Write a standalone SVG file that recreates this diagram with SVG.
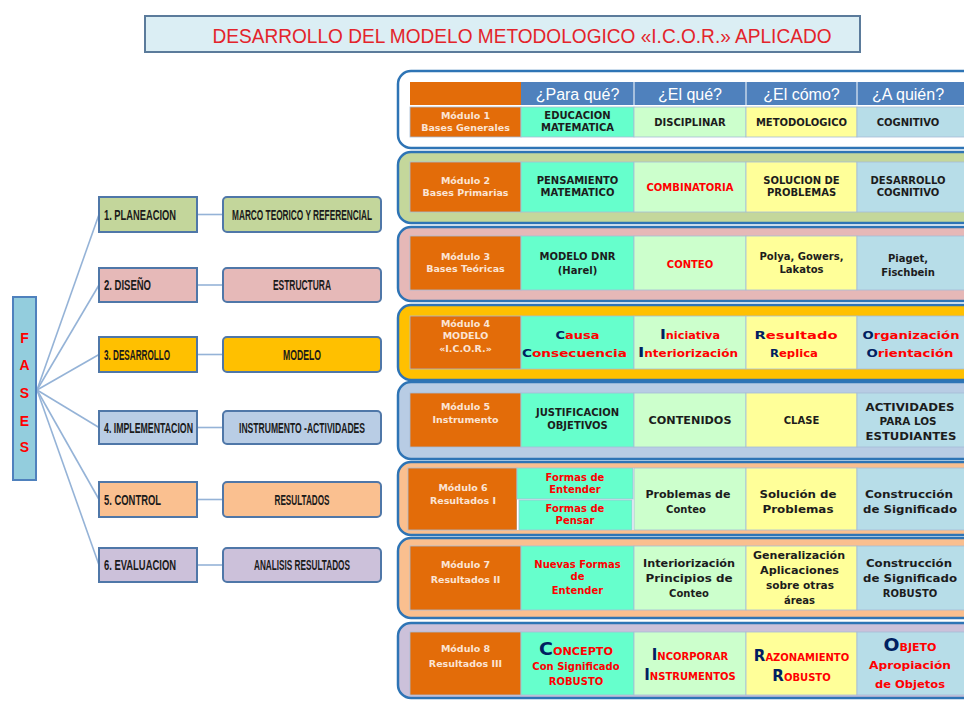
<svg xmlns="http://www.w3.org/2000/svg" width="964" height="702" viewBox="0 0 964 702">
<style>
.lbl{font-family:"Liberation Sans",Arial,sans-serif;font-weight:bold;font-size:14px;fill:#1a1a1a}
.ph{stroke:#4f77a8;stroke-width:2}
.rb{stroke:#4f77a8;stroke-width:2}
.con{stroke:#95b3d7;stroke-width:1.6;fill:none}
.cont{stroke:#2e74b5;stroke-width:2.5}
.c{stroke:#a6bcd6;stroke-width:0.8}
.t{font-family:"DejaVu Sans",Verdana,sans-serif;font-weight:bold;font-size:10px;fill:#1c1c1c;text-anchor:middle}
.m{font-family:"DejaVu Sans",Verdana,sans-serif;font-weight:bold;font-size:9.5px;fill:#fbe4d5;text-anchor:middle}
.h{font-family:"Liberation Sans",Arial,sans-serif;font-size:16px;fill:#ffffff;text-anchor:middle}
.r{fill:#ff0000}
.n{fill:#002060}
.or{fill:#e36c09}.g1{fill:#66ffcc}.g2{fill:#ccffcc}.y{fill:#ffff99}.b{fill:#b7dde8}
</style>

<g id="title">
<rect x="145" y="16" width="715" height="36" fill="#dbeef4" stroke="#5b7b9b" stroke-width="2"/>
<text x="522" y="43" font-family="Liberation Sans,Arial,sans-serif" font-size="21" fill="#e3242b" text-anchor="middle" textLength="619" lengthAdjust="spacingAndGlyphs">DESARROLLO DEL MODELO METODOLOGICO «I.C.O.R.» APLICADO</text>
</g>

<g id="connectors">
<line class="con" x1="37" y1="390" x2="99" y2="214.5"/>
<line class="con" x1="37" y1="390" x2="99" y2="285"/>
<line class="con" x1="37" y1="390" x2="99" y2="354.5"/>
<line class="con" x1="37" y1="390" x2="99" y2="427.5"/>
<line class="con" x1="37" y1="390" x2="99" y2="499.5"/>
<line class="con" x1="37" y1="390" x2="99" y2="565"/>
<line class="con" x1="197" y1="214.5" x2="223" y2="214.5"/>
<line class="con" x1="197" y1="285" x2="223" y2="285"/>
<line class="con" x1="197" y1="354.5" x2="223" y2="354.5"/>
<line class="con" x1="197" y1="427.5" x2="223" y2="427.5"/>
<line class="con" x1="197" y1="499.5" x2="223" y2="499.5"/>
<line class="con" x1="197" y1="565" x2="223" y2="565"/>
</g>

<g id="fases">
<rect x="13" y="297" width="23" height="183" fill="#93cddd" stroke="#4f81bd" stroke-width="2"/>
<g font-family="Liberation Sans,Arial,sans-serif" font-weight="bold" font-size="14" fill="#ff0000" text-anchor="middle">
<text x="24.5" y="343">F</text><text x="24.5" y="370">A</text><text x="24.5" y="398">S</text><text x="24.5" y="426">E</text><text x="24.5" y="452">S</text>
</g>
</g>

<g id="phase1"><rect class="ph" x="99" y="197" width="98" height="35" fill="#c3d69b"/><text class="lbl" x="104" y="220" textLength="72" lengthAdjust="spacingAndGlyphs">1. PLANEACION</text></g>
<g id="phase2"><rect class="ph" x="99" y="268" width="98" height="34" fill="#e6b9b8"/><text class="lbl" x="104" y="290" textLength="47" lengthAdjust="spacingAndGlyphs">2. DISEÑO</text></g>
<g id="phase3"><rect class="ph" x="99" y="337" width="98" height="35" fill="#ffc000"/><text class="lbl" x="104" y="360" textLength="66" lengthAdjust="spacingAndGlyphs">3. DESARROLLO</text></g>
<g id="phase4"><rect class="ph" x="99" y="411" width="98" height="33" fill="#b9cde5"/><text class="lbl" x="104" y="433" textLength="89" lengthAdjust="spacingAndGlyphs">4. IMPLEMENTACION</text></g>
<g id="phase5"><rect class="ph" x="99" y="482" width="98" height="35" fill="#fac090"/><text class="lbl" x="104" y="505" textLength="57" lengthAdjust="spacingAndGlyphs">5. CONTROL</text></g>
<g id="phase6"><rect class="ph" x="99" y="548" width="98" height="34" fill="#ccc1da"/><text class="lbl" x="104" y="570" textLength="72" lengthAdjust="spacingAndGlyphs">6. EVALUACION</text></g>

<g id="out1"><rect class="rb" x="223" y="197" width="158" height="35" rx="4" fill="#c3d69b"/><text class="lbl" x="302" y="220" text-anchor="middle" textLength="140" lengthAdjust="spacingAndGlyphs">MARCO TEORICO Y REFERENCIAL</text></g>
<g id="out2"><rect class="rb" x="223" y="268" width="158" height="34" rx="4" fill="#e6b9b8"/><text class="lbl" x="302" y="290" text-anchor="middle" textLength="58" lengthAdjust="spacingAndGlyphs">ESTRUCTURA</text></g>
<g id="out3"><rect class="rb" x="223" y="337" width="158" height="35" rx="4" fill="#ffc000"/><text class="lbl" x="302" y="360" text-anchor="middle" textLength="38" lengthAdjust="spacingAndGlyphs">MODELO</text></g>
<g id="out4"><rect class="rb" x="223" y="411" width="158" height="33" rx="4" fill="#b9cde5"/><text class="lbl" x="302" y="433" text-anchor="middle" textLength="126" lengthAdjust="spacingAndGlyphs">INSTRUMENTO -ACTIVIDADES</text></g>
<g id="out5"><rect class="rb" x="223" y="482" width="158" height="35" rx="4" fill="#fac090"/><text class="lbl" x="302" y="505" text-anchor="middle" textLength="55" lengthAdjust="spacingAndGlyphs">RESULTADOS</text></g>
<g id="out6"><rect class="rb" x="223" y="548" width="158" height="34" rx="4" fill="#ccc1da"/><text class="lbl" x="302" y="570" text-anchor="middle" textLength="96" lengthAdjust="spacingAndGlyphs">ANALISIS RESULTADOS</text></g>

<g id="modulo1">
<rect class="cont" x="398" y="71" width="600" height="77" rx="13" fill="#ffffff"/>
<rect x="410" y="82" width="111" height="23" class="or"/>
<rect x="521" y="82" width="450" height="23" fill="#4f81bd"/>
<line x1="634" y1="82" x2="634" y2="105" stroke="#ffffff" stroke-width="1"/>
<line x1="746" y1="82" x2="746" y2="105" stroke="#ffffff" stroke-width="1"/>
<line x1="857" y1="82" x2="857" y2="105" stroke="#ffffff" stroke-width="1"/>
<text class="h" x="577.5" y="100">¿Para qué?</text>
<text class="h" x="690" y="100">¿El qué?</text>
<text class="h" x="801.5" y="100">¿El cómo?</text>
<text class="h" x="908" y="100">¿A quién?</text>
<rect class="or c" x="410" y="107" width="111" height="30"/>
<rect class="g1 c" x="521" y="107" width="113" height="30"/>
<rect class="g2 c" x="634" y="107" width="112" height="30"/>
<rect class="y c" x="746" y="107" width="111" height="30"/>
<rect class="b c" x="857" y="107" width="114" height="30"/>
<text class="m" x="465.5" y="119">Módulo 1</text><text class="m" x="465.5" y="131">Bases Generales</text>
<text class="t" x="577.5" y="119">EDUCACION</text><text class="t" x="577.5" y="131">MATEMATICA</text>
<text class="t" x="690" y="126">DISCIPLINAR</text>
<text class="t" x="801.5" y="126">METODOLOGICO</text>
<text class="t" x="908" y="126">COGNITIVO</text>
</g>

<g id="modulo2">
<rect class="cont" x="398" y="152" width="600" height="71" rx="13" fill="#c4d79b"/>
<rect class="or c" x="410" y="162" width="111" height="50"/>
<rect class="g1 c" x="521" y="162" width="113" height="50"/>
<rect class="g2 c" x="634" y="162" width="112" height="50"/>
<rect class="y c" x="746" y="162" width="111" height="50"/>
<rect class="b c" x="857" y="162" width="114" height="50"/>
<text class="m" x="465.5" y="184">Módulo 2</text><text class="m" x="465.5" y="196">Bases Primarias</text>
<text class="t" x="577.5" y="184" font-size="10.5">PENSAMIENTO</text><text class="t" x="577.5" y="196" font-size="10.5">MATEMATICO</text>
<text class="t r" x="690" y="191" font-size="11">COMBINATORIA</text>
<text class="t" x="801.5" y="184" font-size="9.5">SOLUCION DE</text><text class="t" x="801.5" y="196" font-size="9.5">PROBLEMAS</text>
<text class="t" x="908" y="184" font-size="10.5">DESARROLLO</text><text class="t" x="908" y="196" font-size="10.5">COGNITIVO</text>
</g>

<g id="modulo3">
<rect class="cont" x="398" y="227" width="600" height="74" rx="13" fill="#e6b8b7"/>
<rect class="or c" x="410" y="236" width="111" height="54"/>
<rect class="g1 c" x="521" y="236" width="113" height="54"/>
<rect class="g2 c" x="634" y="236" width="112" height="54"/>
<rect class="y c" x="746" y="236" width="111" height="54"/>
<rect class="b c" x="857" y="236" width="114" height="54"/>
<text class="m" x="465.5" y="260">Módulo 3</text><text class="m" x="465.5" y="272">Bases Teóricas</text>
<text class="t" x="577.5" y="260" font-size="12">MODELO DNR</text><text class="t" x="577.5" y="274" font-size="12">(Harel)</text>
<text class="t r" x="690" y="268" font-size="12.5">CONTEO</text>
<text class="t" x="801.5" y="260" font-size="9.5">Polya, Gowers,</text><text class="t" x="801.5" y="273" font-size="9.5">Lakatos</text>
<text class="t" x="908" y="262" font-size="11.5">Piaget,</text><text class="t" x="908" y="276" font-size="11.5">Fischbein</text>
</g>

<g id="modulo4">
<rect class="cont" x="398" y="305" width="600" height="75" rx="13" fill="#ffc000"/>
<rect class="or c" x="410" y="316" width="111" height="53"/>
<rect class="g1 c" x="521" y="316" width="113" height="53"/>
<rect class="g2 c" x="634" y="316" width="112" height="53"/>
<rect class="y c" x="746" y="316" width="111" height="53"/>
<rect class="b c" x="857" y="316" width="114" height="53"/>
<text class="m" x="465.5" y="327">Módulo 4</text><text class="m" x="465.5" y="339">MODELO</text><text class="m" x="465.5" y="352">«I.C.O.R.»</text>
<text class="t r" x="577.5" y="339" font-size="14.5" textLength="44" lengthAdjust="spacingAndGlyphs"><tspan class="n">C</tspan>ausa</text>
<text class="t r" x="574.5" y="357" font-size="14.5" textLength="105" lengthAdjust="spacingAndGlyphs"><tspan class="n">C</tspan>onsecuencia</text>
<text class="t r" x="690" y="339" font-size="12.5" textLength="60" lengthAdjust="spacingAndGlyphs"><tspan class="n" font-size="14">I</tspan>niciativa</text>
<text class="t r" x="688" y="357" font-size="12.5" textLength="100" lengthAdjust="spacingAndGlyphs"><tspan class="n" font-size="14">I</tspan>nteriorización</text>
<text class="t r" x="796" y="339" font-size="14.5" textLength="83" lengthAdjust="spacingAndGlyphs"><tspan class="n">R</tspan>esultado</text>
<text class="t r" x="794" y="357" font-size="14.5" textLength="48" lengthAdjust="spacingAndGlyphs"><tspan class="n">R</tspan>eplica</text>
<text class="t r" x="911" y="339" font-size="14.5" textLength="97" lengthAdjust="spacingAndGlyphs"><tspan class="n">O</tspan>rganización</text>
<text class="t r" x="910" y="357" font-size="14.5" textLength="87" lengthAdjust="spacingAndGlyphs"><tspan class="n">O</tspan>rientación</text>
</g>

<g id="modulo5">
<rect class="cont" x="398" y="382" width="600" height="77" rx="13" fill="#b8cce4"/>
<rect class="or c" x="410" y="393" width="111" height="54"/>
<rect class="g1 c" x="521" y="393" width="113" height="54"/>
<rect class="g2 c" x="634" y="393" width="112" height="54"/>
<rect class="y c" x="746" y="393" width="111" height="54"/>
<rect class="b c" x="857" y="393" width="114" height="54"/>
<text class="m" x="465.5" y="410" font-size="10">Módulo 5</text><text class="m" x="465.5" y="423" font-size="10">Instrumento</text>
<text class="t" x="577.5" y="416" font-size="10.5">JUSTIFICACION</text><text class="t" x="577.5" y="429" font-size="10.5">OBJETIVOS</text>
<text class="t" x="690" y="424" font-size="11.5" textLength="83" lengthAdjust="spacingAndGlyphs">CONTENIDOS</text>
<text class="t" x="801.5" y="424" font-size="11.5">CLASE</text>
<text class="t" x="910" y="411" font-size="12" textLength="89" lengthAdjust="spacingAndGlyphs">ACTIVIDADES</text><text class="t" x="908" y="425" font-size="12" textLength="57" lengthAdjust="spacingAndGlyphs">PARA LOS</text><text class="t" x="911" y="440" font-size="12" textLength="91" lengthAdjust="spacingAndGlyphs">ESTUDIANTES</text>
</g>

<g id="modulo6">
<rect class="cont" x="398" y="462" width="600" height="73" rx="13" fill="#fabf8f"/>
<rect class="or c" x="408" y="468" width="109" height="62"/>
<rect fill="#ffffff" x="517" y="468" width="117" height="62"/>
<rect class="g1 c" x="517" y="468" width="116" height="31"/>
<rect class="g1 c" x="519" y="500" width="113" height="30"/>
<rect class="g2 c" x="634" y="468" width="112" height="62"/>
<rect class="y c" x="746" y="468" width="111" height="62"/>
<rect class="b c" x="857" y="468" width="114" height="62"/>
<text class="m" x="463" y="491" font-size="10">Módulo 6</text><text class="m" x="463" y="504" font-size="10.5">Resultados  I</text>
<text class="t r" x="575" y="481" font-size="10.5">Formas de</text><text class="t r" x="575" y="493" font-size="10.5">Entender</text>
<text class="t r" x="575" y="512" font-size="10.5">Formas de</text><text class="t r" x="575" y="524" font-size="10.5">Pensar</text>
<text class="t" x="688" y="498" font-size="12" textLength="85" lengthAdjust="spacingAndGlyphs">Problemas de</text><text class="t" x="686" y="513" font-size="12">Conteo</text>
<text class="t" x="798" y="498" font-size="12.5" textLength="77" lengthAdjust="spacingAndGlyphs">Solución de</text><text class="t" x="798" y="513" font-size="12.5" textLength="71" lengthAdjust="spacingAndGlyphs">Problemas</text>
<text class="t" x="909" y="498" font-size="12" textLength="88" lengthAdjust="spacingAndGlyphs">Construcción</text><text class="t" x="910" y="513" font-size="12" textLength="94" lengthAdjust="spacingAndGlyphs">de Significado</text>
</g>

<g id="modulo7">
<rect class="cont" x="398" y="538" width="600" height="80" rx="13" fill="#fabf8f"/>
<rect class="or c" x="410" y="546" width="111" height="64"/>
<rect class="g1 c" x="521" y="546" width="113" height="64"/>
<rect class="g2 c" x="634" y="546" width="112" height="64"/>
<rect class="y c" x="746" y="546" width="111" height="64"/>
<rect class="b c" x="857" y="546" width="114" height="64"/>
<text class="m" x="465.5" y="568" font-size="10">Módulo 7</text><text class="m" x="465.5" y="583" font-size="10.5">Resultados  II</text>
<text class="t r" x="577.5" y="568" font-size="11">Nuevas Formas</text><text class="t r" x="577.5" y="580" font-size="11">de</text><text class="t r" x="577.5" y="594" font-size="11.5">Entender</text>
<text class="t" x="689" y="567" font-size="12" textLength="92" lengthAdjust="spacingAndGlyphs">Interiorización</text><text class="t" x="689" y="582" font-size="12" textLength="87" lengthAdjust="spacingAndGlyphs">Principios de</text><text class="t" x="689" y="597" font-size="12">Conteo</text>
<text class="t" x="799" y="559" font-size="11.5" textLength="92" lengthAdjust="spacingAndGlyphs">Generalización</text><text class="t" x="799.5" y="574" font-size="11.5" textLength="79" lengthAdjust="spacingAndGlyphs">Aplicaciones</text><text class="t" x="800" y="589" font-size="11.5" textLength="68" lengthAdjust="spacingAndGlyphs">sobre otras</text><text class="t" x="799.5" y="604" font-size="11.5">áreas</text>
<text class="t" x="909" y="567" font-size="12" textLength="86" lengthAdjust="spacingAndGlyphs">Construcción</text><text class="t" x="910" y="582" font-size="12" textLength="94" lengthAdjust="spacingAndGlyphs">de Significado</text><text class="t" x="910" y="597" font-size="12">ROBUSTO</text>
</g>

<g id="modulo8">
<rect class="cont" x="398" y="623" width="600" height="75" rx="13" fill="#ccc1da"/>
<rect class="or c" x="410" y="632" width="111" height="63"/>
<rect class="g1 c" x="521" y="632" width="113" height="63"/>
<rect class="g2 c" x="634" y="632" width="112" height="63"/>
<rect class="y c" x="746" y="632" width="111" height="63"/>
<rect class="b c" x="857" y="632" width="114" height="63"/>
<text class="m" x="465.5" y="652" font-size="10">Módulo 8</text><text class="m" x="465.5" y="667" font-size="10.5">Resultados  III</text>
<text class="t r" x="576" y="655" font-size="12" textLength="74" lengthAdjust="spacingAndGlyphs"><tspan class="n" font-size="17">C</tspan>ONCEPTO</text>
<text class="t r" x="576" y="670" font-size="11">Con Significado</text>
<text class="t r" x="576" y="685" font-size="11">ROBUSTO</text>
<text class="t r" x="690" y="660" font-size="10"><tspan class="n" font-size="15">I</tspan>NCORPORAR</text>
<text class="t r" x="690" y="680" font-size="9.5"><tspan class="n" font-size="15">I</tspan>NSTRUMENTOS</text>
<text class="t r" x="801.5" y="661" font-size="10"><tspan class="n" font-size="15">R</tspan>AZONAMIENTO</text>
<text class="t r" x="801.5" y="681" font-size="10"><tspan class="n" font-size="15">R</tspan>OBUSTO</text>
<text class="t r" x="910" y="651" font-size="12.5" textLength="53" lengthAdjust="spacingAndGlyphs"><tspan class="n" font-size="17">O</tspan>BJETO</text>
<text class="t r" x="910" y="669" font-size="12.5" textLength="82" lengthAdjust="spacingAndGlyphs">Apropiación</text>
<text class="t r" x="910" y="688" font-size="12.5" textLength="70" lengthAdjust="spacingAndGlyphs">de Objetos</text>
</g>
</svg>
